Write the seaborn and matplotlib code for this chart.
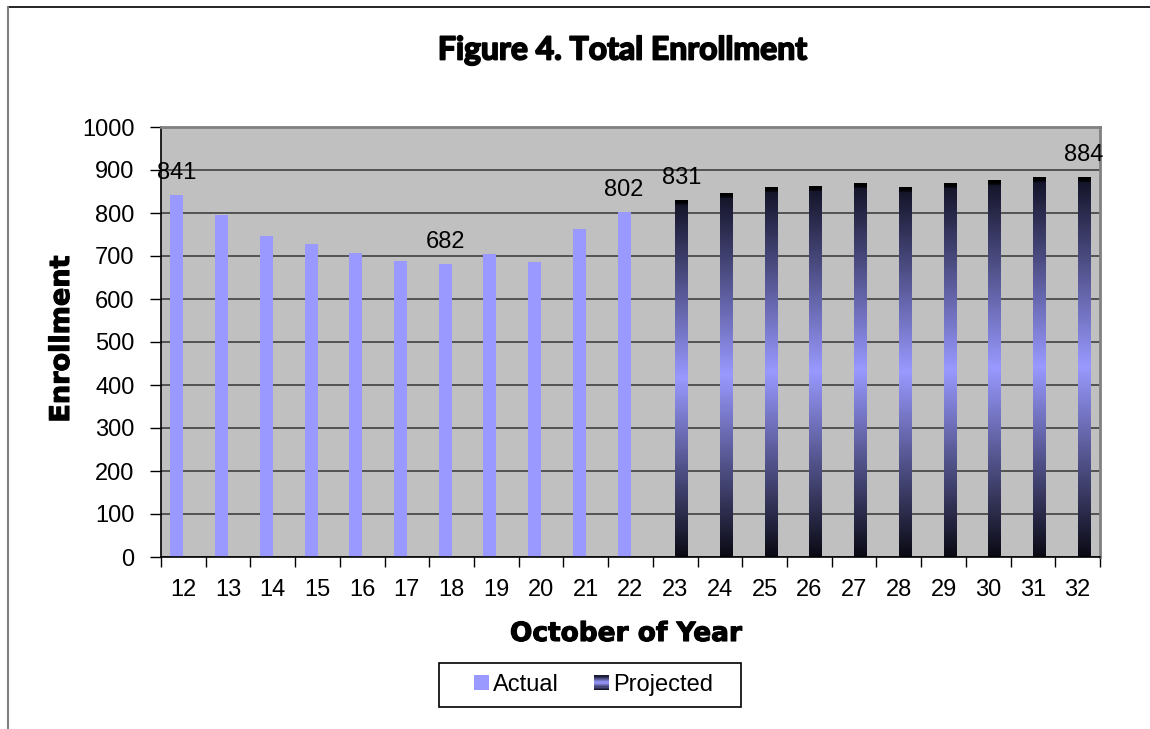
import numpy as np
import pandas as pd
import matplotlib
matplotlib.use("Agg")
import matplotlib.pyplot as plt
import seaborn as sns
from matplotlib.colors import LinearSegmentedColormap
from matplotlib.patches import Rectangle
from matplotlib.legend_handler import HandlerBase
from matplotlib.lines import Line2D
import matplotlib.patheffects as pe

# ---- data ----
actual_years = [12, 13, 14, 15, 16, 17, 18, 19, 20, 21, 22]
actual_values = [841, 796, 747, 728, 707, 688, 682, 705, 685, 763, 802]
projected_years = [23, 24, 25, 26, 27, 28, 29, 30, 31, 32]
projected_values = [831, 847, 861, 863, 870, 861, 870, 877, 884, 884]
labeled_years = [12, 18, 22, 23, 32]
y_ticks = [0, 100, 200, 300, 400, 500, 600, 700, 800, 900, 1000]

title = "Figure 4. Total Enrollment"
x_label = "October of Year"
y_label = "Enrollment"
series_names = ["Actual", "Projected"]

df = pd.DataFrame({
    "year": [str(y) for y in actual_years + projected_years],
    "value": actual_values + projected_values,
    "type": [series_names[0]] * len(actual_years) + [series_names[1]] * len(projected_years),
})

sns.set_theme(style="white")
plt.rcParams["font.family"] = ["Liberation Sans", "DejaVu Sans"]
for k in ["text.color", "axes.labelcolor", "xtick.color", "ytick.color"]:
    plt.rcParams[k] = "black"

ACT = "#9999FF"
grad_cmap = LinearSegmentedColormap.from_list(
    "proj", [(0, "#0a0a14"), (0.5, ACT), (0.985, "#15152a"), (0.99, "#000000"), (1.0, "#000000")])

fig = plt.figure(figsize=(11.5, 7.29), dpi=100)
ax = fig.add_axes([161 / 1150, 1 - 557 / 729, (1100 - 161) / 1150, (557 - 127) / 729])
ax.set_facecolor("#C0C0C0")

cat_order = list(df["year"])
sns.barplot(data=df, x="year", y="value", hue="type", dodge=True, order=cat_order,
            hue_order=series_names,
            palette={series_names[0]: ACT, series_names[1]: ACT},
            width=0.58, ax=ax, legend=False, saturation=1, edgecolor="none", linewidth=0)

# gradient fill for projected bars
proj_cont = ax.containers[1]
for patch in proj_cont.patches:
    x0, y0 = patch.get_x(), patch.get_y()
    w, h = patch.get_width(), patch.get_height()
    if not np.isfinite(h) or h == 0:
        continue
    grad = np.linspace(0, 1, 512).reshape(-1, 1)
    im = ax.imshow(grad, cmap=grad_cmap, origin="lower", aspect="auto",
                   extent=[x0, x0 + w, y0, y0 + h], zorder=patch.get_zorder(),
                   interpolation="bilinear")
    im.set_clip_path(patch)
    patch.set_facecolor("none")

ax.set_xlim(-0.5, len(cat_order) - 0.5)
ax.set_ylim(0, 1000)
ax.set_yticks(y_ticks)
ax.yaxis.grid(True, color="#404040", linewidth=1.2)
ax.set_axisbelow(True)

# data labels, placed over the bars drawn by seaborn
for cont in ax.containers:
    for patch in cont.patches:
        h = patch.get_height()
        if not np.isfinite(h) or h == 0:
            continue
        xc = patch.get_x() + patch.get_width() / 2
        idx = int(round(xc))
        if int(cat_order[idx]) in labeled_years:
            ax.annotate(f"{h:.0f}", (xc, h), xytext=(0, 8), textcoords="offset points",
                        ha="center", va="bottom", fontsize=17, color="black")

# ticks
ax.tick_params(axis="y", which="major", length=8, width=1, direction="out",
               labelsize=17, pad=11, left=True, colors="black")
ax.tick_params(axis="x", which="major", length=0, labelsize=17, pad=16, colors="black")
ax.set_xticks(np.arange(-0.5, len(cat_order), 1.0), minor=True)
ax.tick_params(axis="x", which="minor", length=7, width=1, direction="out", bottom=True, color="black")

for s in ["left", "bottom"]:
    ax.spines[s].set_color("black")
    ax.spines[s].set_linewidth(1.2)
for s in ["top", "right"]:
    ax.spines[s].set_color("#808080")
    ax.spines[s].set_linewidth(2)

ax.set_xlabel("")
ax.set_ylabel("")
heavy_fx = [pe.withStroke(linewidth=1.3, foreground="black")]
fig.text(623 / 1150, 1 - 50 / 729, title, ha="center", va="center",
         fontsize=23, fontweight="bold", family=["Lato", "DejaVu Sans"], color="black",
         path_effects=heavy_fx)
fig.text(626 / 1150, 1 - 634 / 729, x_label, ha="center", va="center",
         fontsize=19, fontweight="bold", family=["DejaVu Sans"], color="black",
         path_effects=[pe.withStroke(linewidth=0.8, foreground="black")])
fig.text(62 / 1150, 1 - 339 / 729, y_label, ha="center", va="center", rotation=90,
         fontsize=19.5, fontweight="bold", family=["DejaVu Sans"], color="black",
         path_effects=[pe.withStroke(linewidth=0.8, foreground="black")])


# legend with gradient handle
class GradHandler(HandlerBase):
    def create_artists(self, legend, orig_handle, xdescent, ydescent, width, height, fontsize, trans):
        arts = []
        n = 12
        side = height
        x0 = -xdescent + (width - side) / 2
        for k in range(n):
            c = grad_cmap((k + 0.5) / n)
            r = Rectangle((x0, -ydescent + side * k / n), side, side / n + 0.3,
                          facecolor=c, edgecolor="none", transform=trans)
            arts.append(r)
        return arts


class SquareHandler(HandlerBase):
    def create_artists(self, legend, orig_handle, xdescent, ydescent, width, height, fontsize, trans):
        side = height
        x0 = -xdescent + (width - side) / 2
        return [Rectangle((x0, -ydescent), side, side, facecolor=ACT, edgecolor="none", transform=trans)]


h_act = Rectangle((0, 0), 1, 1)
h_proj = Line2D([], [])
leg = fig.legend([h_act, h_proj], series_names,
                 handler_map={h_act: SquareHandler(), h_proj: GradHandler()},
                 loc="center", bbox_to_anchor=(594 / 1150, 1 - 685 / 729), ncol=2,
                 fontsize=17, frameon=False,
                 handlelength=0.58, handleheight=0.58, handletextpad=0.2, columnspacing=1.5,
                 borderpad=0.0, borderaxespad=0)
for t in leg.get_texts():
    t.set_color("black")
# legend frame (Excel-style wider padding)
fig.add_artist(Rectangle((439 / 1150, 1 - 707 / 729), (741 - 439) / 1150, 44 / 729,
                         transform=fig.transFigure, facecolor="none", edgecolor="black",
                         linewidth=1.2))

# outer chart border (top and left visible)
fig.add_artist(Line2D([8 / 1150, 1], [1 - 7 / 729, 1 - 7 / 729], transform=fig.transFigure,
                      color="black", linewidth=1.2))
fig.add_artist(Line2D([8 / 1150, 8 / 1150], [0, 1 - 7 / 729], transform=fig.transFigure,
                      color="#808080", linewidth=1.5))

fig.savefig("out.png", dpi=100, facecolor="white")
